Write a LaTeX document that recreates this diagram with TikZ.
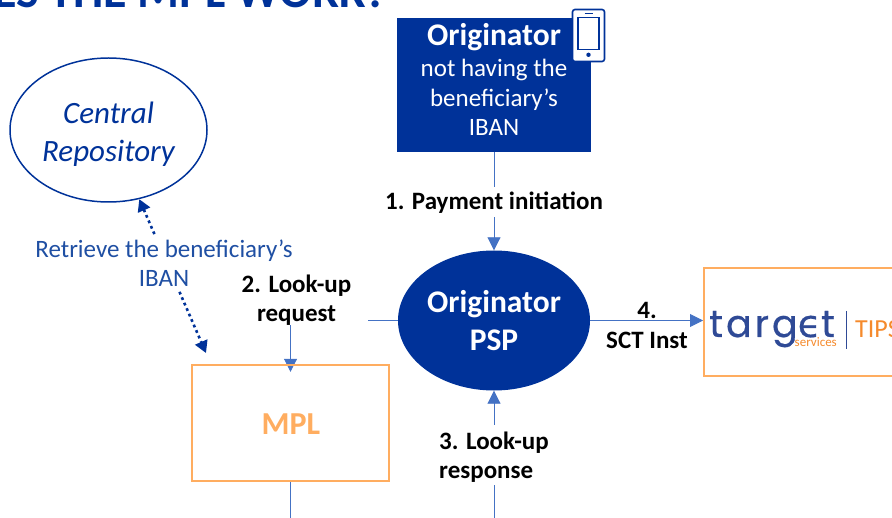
\documentclass[tikz,border=0pt]{standalone}
\usepackage{fontspec}
\setmainfont{Carlito}
\newfontfamily\logofont{Poppins}
\newfontfamily\logoalt{DejaVu Sans}
\usetikzlibrary{arrows.meta,shapes.geometric,calc}
\definecolor{ecbblue}{HTML}{003299}
\definecolor{labelblue}{HTML}{1F4FA3}
\definecolor{lineblue}{HTML}{4472C4}
\definecolor{softorange}{HTML}{FFAD60}
\definecolor{tipsorange}{HTML}{F58A2C}
\definecolor{logoblue}{HTML}{2F4A96}
\newcommand{\fsz}[2]{\fontsize{#1bp}{#2bp}\selectfont}
\tikzset{
  x=1bp,y=-1bp,
  flow/.style={draw=lineblue,line width=0.9pt,-{Triangle[length=13bp,width=13bp]}},
  plainflow/.style={draw=lineblue,line width=0.9pt},
  steplabel/.style={fill=white,text=black,align=center,inner sep=0pt,font=\bfseries\fsz{25}{29}},
  darkbox/.style={rectangle,fill=ecbblue,text=white,align=center,inner sep=0pt,minimum width=194bp,minimum height=134bp},
  darkoval/.style={ellipse,fill=ecbblue,text=white,align=center,inner sep=0pt,minimum width=192bp,minimum height=140bp,font=\bfseries\fsz{31.5}{38.5}},
  orangebox/.style={rectangle,draw=softorange,line width=2pt,inner sep=0pt},
  repooval/.style={ellipse,draw=ecbblue,line width=1.5pt,inner sep=0pt,minimum width=197bp,minimum height=144bp},
  repotext/.style={text=ecbblue,align=center,inner sep=0pt,font=\itshape\fsz{31}{38}},
  retrieve/.style={draw=ecbblue,line width=2.6pt,dash pattern=on 2.8pt off 3.2pt,{Triangle[length=12bp,width=13bp]}-{Triangle[length=12bp,width=13bp]}},
}
\begin{document}
\begin{tikzpicture}
\useasboundingbox (0,0) rectangle (892,518);
\clip (0,0) rectangle (892,518);

\node[anchor=base east,text=ecbblue,font=\bfseries\fsz{48}{48}] (title) at (391,8) {ES THE MPL WORK?};

\node[darkbox] (orig) at (494,85) {};
\node[text=white,align=center,inner sep=0pt,font=\bfseries\fsz{31.5}{31.5}] (origt) at (494,37) {Originator};
\node[text=white,align=center,inner sep=0pt,font=\fsz{25}{29.5},anchor=north] (origs) at (494,59) {not having the\\beneficiary's\\IBAN};

% phone icon
\draw[draw=ecbblue,fill=white,line width=1.6pt,rounded corners=2.5bp] (572.5,9.5) rectangle (604.5,61.5);
\draw[draw=ecbblue,line width=1.2pt] (578,17.5) rectangle (599,49.5);
\draw[draw=ecbblue,line width=1.2pt] (584.5,13.5) -- (592.5,13.5);
\fill[ecbblue] (588.5,54.8) circle (2.2bp);

\node[darkoval] (psp) at (494,320.5) {Originator\\PSP};
\node[repooval] (repo) at (108.5,130) {};
\node[repotext] (repot) at (108.5,134.5) {Central\\Repository};

\coordinate (mplhead) at (206,353);
\coordinate (below) at (0,560);

\node[rectangle,inner sep=0pt,minimum width=197bp,minimum height=116bp] (mpl) at (290.5,423) {};
\node[orangebox,anchor=north west,minimum width=210bp,minimum height=108bp] (tips) at (703,267) {};

% connectors
\draw[flow] (orig.south) -- (psp.north);
\draw[flow,shorten >=-7bp] (psp.west) -| (mpl.north);
\draw[plainflow] (mpl.south) -- (mpl.south |- below);
\draw[flow,shorten >=-2bp] (psp.south |- below) -- ($(psp.south)+(0,2)$);
\draw[flow] (psp.east) -- (tips.west |- psp.east);
\draw[retrieve] (repo.-66.5) -- (mplhead);

% box outline above the arrowhead
\draw[orangebox] (mpl.north west) rectangle (mpl.south east);

% labels
\node[fill=white,text=labelblue,align=center,inner sep=4pt,font=\fsz{25}{29}] (l5) at (164,263.5) {Retrieve the beneficiary’s\\IBAN};
\node[steplabel,minimum width=228bp,minimum height=30bp] (l1) at (494,202.5) {1. Payment initiation};
\node[fill=white,inner sep=0pt,minimum width=76bp,minimum height=58bp] (l2bg) at (330,298) {};
\node[steplabel] (l2) at (296.5,300) {2. Look-up\\request};
\node[fill=white,inner sep=0pt,minimum width=130bp,minimum height=60bp] (l3bg) at (494,455) {};
\node[steplabel,align=left,anchor=west] (l3) at (439,457.5) {3. Look-up\\response};
\node[steplabel,fill=none] (l4a) at (647,310) {4.};
\node[steplabel,fill=none] (l4b) at (647,340) {SCT Inst};

\node[text=softorange,inner sep=0pt,font=\bfseries\fsz{32}{32}] (mplt) at (291,424) {MPL};

% logo
\node[anchor=base west,inner sep=0pt,text=logoblue,font=\logofont\fontsize{38bp}{38bp}\selectfont] (tg) at (709,337) {\addfontfeature{FakeBold=0.5,LetterSpace=8}targ{\logoalt\addfontfeature{FakeBold=0.5}ϵ}t};
\node[anchor=base east,inner sep=0pt,text=tipsorange,font=\fsz{13}{13}] (sv) at (837,347) {services};
\draw[draw=logoblue,line width=1pt] (846,311) -- (846,349);
\node[anchor=base west,inner sep=0pt,text=tipsorange,font=\fsz{26}{26}] (tp) at (855,338) {TIPS};
\end{tikzpicture}
\end{document}
